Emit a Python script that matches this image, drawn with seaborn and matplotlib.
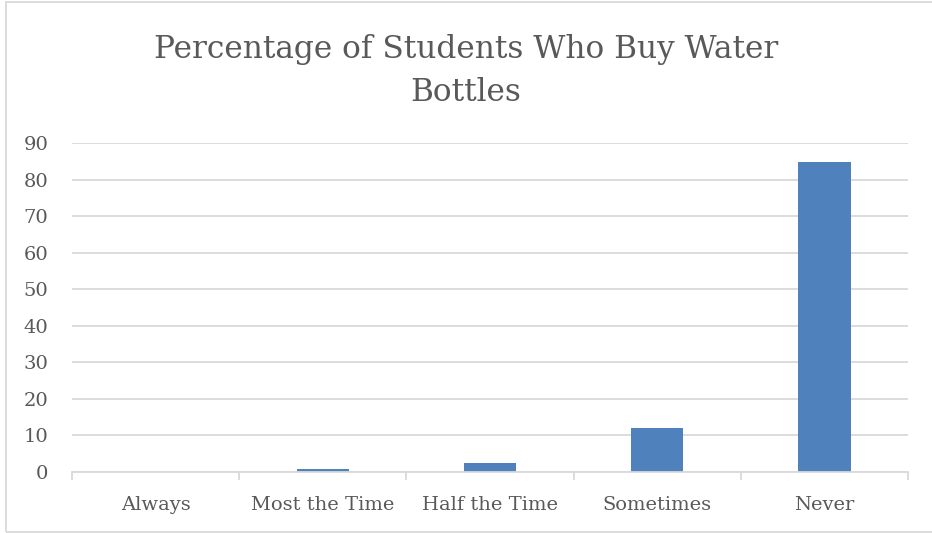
import matplotlib
matplotlib.use("Agg")
import matplotlib.pyplot as plt
import seaborn as sns
import pandas as pd
from matplotlib.patches import Rectangle

categories = ["Always", "Most the Time", "Half the Time", "Sometimes", "Never"]
percentages = [0.0, 0.8, 2.4, 12.0, 84.8]
y_ticks = [0, 10, 20, 30, 40, 50, 60, 70, 80, 90]
title_lines = ["Percentage of Students Who Buy Water", "Bottles"]

df = pd.DataFrame({"category": categories, "percent": percentages})

sns.set_theme(style="white")
plt.rcParams["font.family"] = ["DejaVu Serif"]

text_color = "#595959"
grid_color = "#d9d9d9"
bar_color = "#4f81bd"

W, H = 932, 533
fig = plt.figure(figsize=(W / 100, H / 100), dpi=100)
ax = fig.add_axes([72 / W, (H - 472) / H, (908 - 72) / W, (472 - 143) / H])

sns.barplot(data=df, x="category", y="percent", color=bar_color,
            width=0.313, saturation=1, ax=ax, edgecolor="none")

ax.set_ylim(0, 90)
ax.set_xlim(-0.5, len(categories) - 0.5)
ax.set_yticks(y_ticks)
ax.set_axisbelow(True)
ax.yaxis.grid(True, color=grid_color, linewidth=1.3)
ax.xaxis.grid(False)

for side in ["left", "right", "top"]:
    ax.spines[side].set_visible(False)
ax.spines["bottom"].set_color(grid_color)
ax.spines["bottom"].set_linewidth(1.3)

ax.set_xlabel("")
ax.set_ylabel("")
ax.tick_params(axis="both", which="major", length=0, labelsize=14,
               labelcolor=text_color)
ax.tick_params(axis="x", pad=17)
ax.tick_params(axis="y", pad=17)

# category boundary tick marks below the axis
ax.set_xticks([i - 0.5 for i in range(len(categories) + 1)], minor=True)
ax.tick_params(axis="x", which="minor", length=6, width=1.3,
               color=grid_color, direction="out", bottom=True)

# two-line title, each line placed on its own baseline
for line, baseline_px in zip(title_lines, [58, 101]):
    fig.text(0.5, (H - baseline_px) / H, line, ha="center", va="baseline",
             fontsize=22.5, color=text_color)

# light frame around the chart area
fig.patches.append(Rectangle((5.5 / W, 1.5 / H), (W + 10) / W, (H - 3.5) / H,
                             transform=fig.transFigure, fill=False,
                             edgecolor=grid_color, linewidth=1.3))

fig.savefig("out.png", dpi=100)
